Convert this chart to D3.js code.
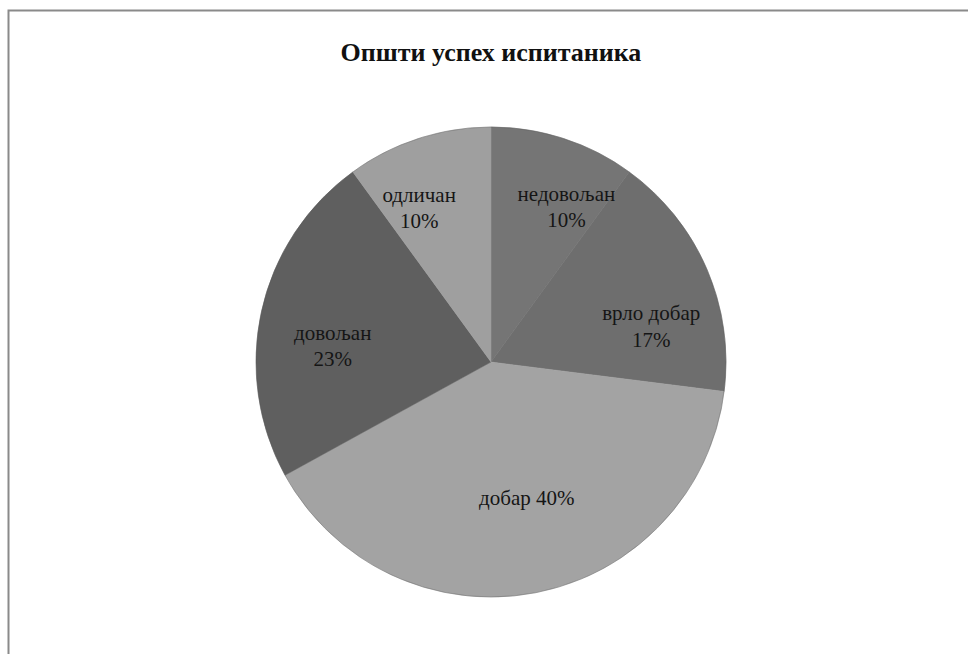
<!DOCTYPE html>
<html>
<head>
<meta charset="utf-8">
<script src="https://cdn.jsdelivr.net/npm/d3@7"></script>
<style>
  body { margin: 0; background: #fff; }
  svg { display: block; }
</style>
</head>
<body>
<svg id="chart" width="968" height="654"></svg>
<script>
// data
var categories = ["недовољан", "врло добар", "добар", "довољан", "одличан"];
var percents = [10, 17, 40, 23, 10];
var sliceColors = ["#757575", "#6e6e6e", "#a3a3a3", "#5f5f5f", "#9f9f9f"];
var chartTitle = "Општи успех испитаника";

// label placement, in label radius and angle nudges (degrees)
var labelLayout = {
  "недовољан": { r: 172, nudge: 8, oneLine: false },
  "врло добар": { r: 164, nudge: 11, oneLine: false },
  "добар": { r: 140, nudge: -4, oneLine: true },
  "довољан": { r: 159, nudge: -7, oneLine: false },
  "одличан": { r: 170, nudge: -7, oneLine: false }
};

var svg = d3.select("#chart");
var cx = 491, cy = 362, radius = 235;

// frame (only top and left edges fall inside the picture)
svg.append("rect")
  .attr("x", 8.5).attr("y", 10.5)
  .attr("width", 1000).attr("height", 700)
  .attr("fill", "none")
  .attr("stroke", "#8a8a8a")
  .attr("stroke-width", 2);

svg.append("text")
  .attr("x", cx)
  .attr("y", 61)
  .attr("text-anchor", "middle")
  .attr("font-family", "'Liberation Serif', 'Times New Roman', serif")
  .attr("font-weight", "bold")
  .attr("font-size", 26)
  .attr("fill", "#111")
  .text(chartTitle);

var data = categories.map(function(c, i) {
  return { name: c, value: percents[i], color: sliceColors[i] };
});

var pie = d3.pie().sort(null).value(function(d) { return d.value; });
var arc = d3.arc().innerRadius(0).outerRadius(radius);

var g = svg.append("g").attr("transform", "translate(" + cx + "," + cy + ")");

var arcs = pie(data);

g.selectAll("path")
  .data(arcs)
  .enter()
  .append("path")
  .attr("d", arc)
  .attr("fill", function(d) { return d.data.color; })
  .attr("stroke", function(d) { return d.data.color; })
  .attr("stroke-width", 0.5);

// thin darker rim like the original
g.append("circle")
  .attr("r", radius)
  .attr("fill", "none")
  .attr("stroke", "#555")
  .attr("stroke-width", 0.6)
  .attr("opacity", 0.6);

var labels = g.selectAll("text.lbl")
  .data(arcs)
  .enter()
  .append("text")
  .attr("class", "lbl")
  .attr("text-anchor", "middle")
  .attr("font-family", "'Liberation Serif', 'Times New Roman', serif")
  .attr("font-size", 21)
  .attr("fill", "#151515")
  .attr("transform", function(d) {
    var lay = labelLayout[d.data.name];
    var a = (d.startAngle + d.endAngle) / 2 + lay.nudge * Math.PI / 180;
    var x = lay.r * Math.sin(a);
    var y = -lay.r * Math.cos(a);
    return "translate(" + x + "," + y + ")";
  });

labels.each(function(d) {
  var t = d3.select(this);
  var lay = labelLayout[d.data.name];
  var pct = d3.format(".0f")(d.data.value) + "%";
  if (lay.oneLine) {
    t.append("tspan").attr("x", 0).attr("dy", "0.35em").text(d.data.name + " " + pct);
  } else {
    t.append("tspan").attr("x", 0).attr("dy", "-0.3em").text(d.data.name);
    t.append("tspan").attr("x", 0).attr("dy", "1.25em").text(pct);
  }
});
</script>
</body>
</html>
